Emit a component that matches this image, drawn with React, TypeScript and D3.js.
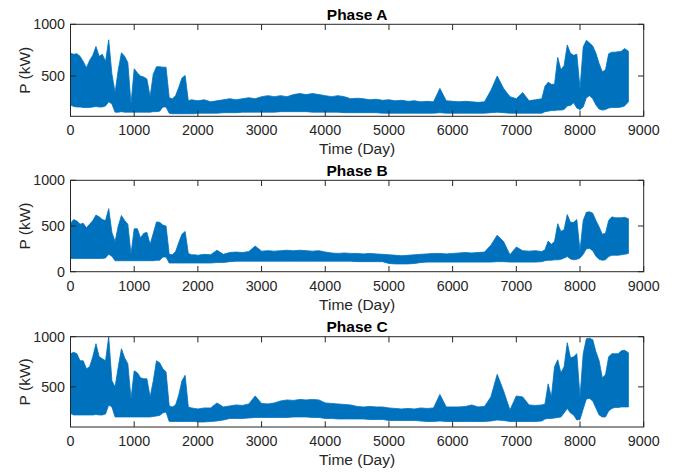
import React from "react";
import * as d3 from "d3";

// hour grid: 50 h in the busy winter stretches, 100 h in between, plus the last hour
const HOURS: number[] = [
  ...d3.range(0, 2000, 50),
  ...d3.range(2000, 7400, 100),
  ...d3.range(7400, 8750, 50),
  8760,
];

const PHASE_TITLES = ["Phase A", "Phase B", "Phase C"];
const X_TICKS = [0, 1000, 2000, 3000, 4000, 5000, 6000, 7000, 8000, 9000];
const Y_TICKS = [0, 500, 1000];
const Y_DOMAINS: [number, number][] = [[110, 1000], [0, 1000], [100, 1000]];

// envelope of the hourly power trace (kW)
const A_UPPER = [
  720, 710, 715, 690, 640, 580, 650, 700, 785, 690,
  710, 640, 850, 520, 340, 560, 725, 690, 630, 230,
  570, 530, 500, 490, 470, 300, 520, 590, 590, 585,
  585, 290, 280, 310, 390, 480, 505, 260, 270, 265,
  260, 270, 250, 260, 270, 280, 270, 280, 290, 280,
  300, 310, 300, 310, 300, 320, 330, 320, 330, 320,
  310, 300, 310, 300, 280, 285, 280, 270, 275, 265,
  270, 260, 265, 255, 260, 250, 255, 250, 380, 260,
  255, 250, 255, 250, 245, 250, 360, 500, 380, 300,
  280, 340, 260, 270,
  280, 400, 440, 420, 420, 680, 560, 600, 800, 720,
  700, 710, 380, 780, 845, 820, 790, 720, 620, 540,
  560, 715, 730, 730, 735, 740, 765, 740,
];
const A_LOWER = [
  220, 205, 200, 200, 195, 195, 195, 200, 205, 200,
  200, 210, 250, 230, 150, 150, 155, 150, 150, 150,
  150, 150, 150, 150, 150, 150, 155, 155, 160, 200,
  200, 140, 135, 135, 135, 135, 135, 135, 135, 135,
  140, 140, 140, 140, 145, 145, 145, 150, 150, 150,
  150, 150, 150, 155, 155, 155, 155, 155, 150, 150,
  150, 150, 150, 145, 145, 145, 145, 145, 145, 140,
  140, 140, 140, 140, 140, 140, 140, 140, 145, 140,
  140, 140, 140, 140, 140, 140, 145, 150, 145, 140,
  140, 140, 140, 140,
  140, 155, 160, 165, 165, 170, 170, 175, 210, 215,
  240, 190, 175, 200, 290, 310, 280, 220, 180, 170,
  175, 190, 195, 195, 195, 200, 210, 250,
];
const B_UPPER = [
  530, 570, 555, 520, 530, 480, 520, 560, 620, 600,
  570, 560, 690, 430, 330, 500, 615, 560, 520, 190,
  470, 470, 370, 420, 430, 300, 420, 545, 540, 510,
  500, 190, 185, 220, 320, 410, 440, 200, 185, 185,
  180, 190, 185, 235, 190, 210, 215, 210, 220, 280,
  225, 230, 225, 230, 235, 230, 235, 230, 225, 230,
  215, 205, 200, 205, 200, 200, 195, 200, 195, 190,
  185, 180, 175, 180, 185, 190, 195, 200, 200, 195,
  200, 205, 210, 205, 210, 215, 290, 400, 330, 185,
  270, 230, 225, 230,
  220, 240, 335, 300, 330, 525, 440, 460, 625, 540,
  540, 570, 230, 560, 650, 655, 640, 560, 490, 410,
  420, 560, 600, 590, 590, 590, 595, 580,
];
const B_LOWER = [
  145, 145, 145, 145, 145, 145, 145, 145, 145, 145,
  145, 150, 190, 170, 120, 120, 120, 120, 120, 120,
  120, 120, 120, 120, 120, 120, 120, 125, 125, 160,
  160, 95, 95, 95, 95, 95, 95, 95, 95, 95,
  95, 95, 95, 100, 100, 110, 115, 115, 115, 115,
  115, 115, 115, 115, 115, 115, 115, 115, 115, 115,
  115, 115, 115, 115, 115, 110, 110, 110, 110, 110,
  90, 85, 85, 85, 90, 100, 105, 105, 105, 105,
  105, 105, 105, 105, 105, 105, 105, 110, 110, 105,
  105, 105, 105, 105,
  110, 120, 125, 125, 130, 130, 135, 150, 165, 140,
  130, 135, 150, 190, 250, 255, 230, 170, 135, 125,
  130, 165, 180, 180, 180, 185, 190, 200,
];
const C_UPPER = [
  830, 845, 830, 760, 760, 680, 700, 800, 930, 800,
  780, 760, 1000, 560, 500, 700, 880, 790, 730, 380,
  660, 640, 590, 580, 580, 400, 560, 760, 740, 680,
  650, 310, 300, 320, 420, 560, 615, 300, 290, 285,
  280, 290, 290, 340, 300, 310, 320, 315, 330, 410,
  335, 330, 340, 360, 370, 365, 375, 370, 375, 370,
  340, 335, 330, 325, 320, 305, 300, 305, 300, 300,
  290, 285, 280, 285, 280, 290, 285, 290, 425, 300,
  300, 300, 305, 320, 300, 305, 400, 625, 460, 270,
  410, 400, 320, 315,
  320, 330, 530, 400, 700, 770, 640, 700, 940, 790,
  800, 830, 400, 830, 980, 985, 970, 850, 760, 590,
  620, 800, 830, 830, 830, 860, 865, 840,
];
const C_LOWER = [
  235, 220, 220, 220, 220, 220, 220, 220, 225, 220,
  220, 230, 320, 300, 200, 200, 200, 200, 200, 200,
  200, 200, 200, 200, 200, 200, 205, 210, 215, 240,
  250, 155, 155, 155, 155, 155, 155, 155, 155, 155,
  150, 150, 155, 160, 170, 185, 185, 185, 190, 195,
  195, 195, 195, 195, 195, 200, 200, 200, 195, 195,
  185, 185, 180, 180, 180, 180, 180, 175, 175, 175,
  165, 165, 165, 165, 165, 160, 155, 155, 160, 155,
  155, 155, 155, 155, 155, 155, 160, 170, 165, 155,
  155, 155, 155, 155,
  160, 180, 185, 185, 190, 195, 200, 240, 285, 240,
  220, 170, 175, 280, 380, 385, 360, 290, 220, 200,
  200, 260, 285, 295, 295, 300, 300, 300,
];

const UPPERS = [A_UPPER, B_UPPER, C_UPPER];
const LOWERS = [A_LOWER, B_LOWER, C_LOWER];

const W = 694;
const H = 472;
const LEFT = 70.5;
const RIGHT = 643.7;
const TOPS = [24.3, 180.3, 336.7];
const BOTTOMS = [116.3, 271.7, 427];
const AXIS = "#262626";
const LINE = "#0072BD";
const FONT = "'Liberation Sans', Arial, Helvetica, sans-serif";
const TICK = 5.7;

function Panel({ idx }: { idx: number }) {
  const top = TOPS[idx];
  const bottom = BOTTOMS[idx];
  const x = d3.scaleLinear().domain([0, 9000]).range([LEFT, RIGHT]);
  const y = d3.scaleLinear().domain(Y_DOMAINS[idx]).range([bottom, top]);
  const upper = UPPERS[idx];
  const lower = LOWERS[idx];
  const area = d3
    .area<number>()
    .defined((_, i) => upper[i] != null && lower[i] != null)
    .x((h) => x(h))
    .y0((_, i) => y(lower[i]))
    .y1((_, i) => y(upper[i]));
  const yTicks = Y_TICKS.filter((t) => t >= Y_DOMAINS[idx][0] && t <= Y_DOMAINS[idx][1]);
  return (
    <g>
      <path d={area(HOURS) || ""} fill={LINE} stroke={LINE} strokeWidth={0.8} strokeLinejoin="round" />
      <rect x={LEFT} y={top} width={RIGHT - LEFT} height={bottom - top} fill="none" stroke={AXIS} strokeWidth={1} />
      {X_TICKS.map((t) => (
        <g key={"x" + t}>
          <line x1={x(t)} x2={x(t)} y1={bottom} y2={bottom - TICK} stroke={AXIS} strokeWidth={1} />
          <line x1={x(t)} x2={x(t)} y1={top} y2={top + TICK} stroke={AXIS} strokeWidth={1} />
          <text x={x(t)} y={bottom + 19} textAnchor="middle" fontSize={14.3} fill={AXIS} fontFamily={FONT}>
            {t}
          </text>
        </g>
      ))}
      {yTicks.map((t) => (
        <g key={"y" + t}>
          <line x1={LEFT} x2={LEFT + TICK} y1={y(t)} y2={y(t)} stroke={AXIS} strokeWidth={1} />
          <line x1={RIGHT} x2={RIGHT - TICK} y1={y(t)} y2={y(t)} stroke={AXIS} strokeWidth={1} />
          <text x={65} y={y(t)} dy="0.35em" textAnchor="end" fontSize={14.3} fill={AXIS} fontFamily={FONT}>
            {t}
          </text>
        </g>
      ))}
      <text x={(LEFT + RIGHT) / 2} y={top - 4.5} textAnchor="middle" fontSize={15.5} fontWeight="bold" fill="#000" fontFamily={FONT}>
        {PHASE_TITLES[idx]}
      </text>
      <text x={(LEFT + RIGHT) / 2} y={bottom + 38} textAnchor="middle" fontSize={15.5} fill={AXIS} fontFamily={FONT}>
        Time (Day)
      </text>
      <text
        transform={`translate(30,${(top + bottom) / 2}) rotate(-90)`}
        textAnchor="middle"
        fontSize={15.5}
        fill={AXIS}
        fontFamily={FONT}
      >
        P (kW)
      </text>
    </g>
  );
}

export default function App() {
  return (
    <svg width={W} height={H} style={{ position: "absolute", left: 0, top: 0, background: "#fff" }}>
      <rect x={0} y={0} width={W} height={H} fill="#fff" />
      {[0, 1, 2].map((i) => (
        <Panel key={i} idx={i} />
      ))}
    </svg>
  );
}
